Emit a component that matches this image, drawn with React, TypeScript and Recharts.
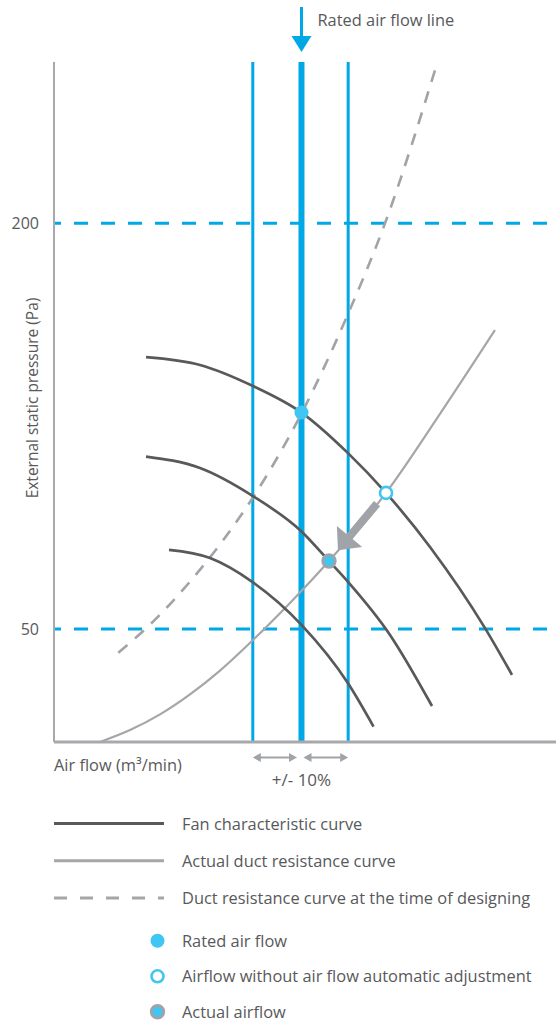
import React from 'react';
import { ComposedChart, Line, XAxis, YAxis, ReferenceLine, ReferenceDot } from 'recharts';

// ---- scales / ticks ----
const X_DOMAIN: [number, number] = [0, 100];
const Y_DOMAIN: [number, number] = [8.2, 259.6];
const Y_TICKS = [50, 200];
const PRESSURE_GUIDES = [200, 50];

// ---- air flow reference lines ----
const RATED_X = 49.3;
const TOL_LOW_X = 39.6;
const TOL_HIGH_X = 58.6;

// ---- curves ----
const fanHigh = [
  { x: 18.33, y: 150.5 }, { x: 29.08, y: 147.6 }, { x: 39.64, y: 139.8 }, { x: 49.3, y: 130.0 },
  { x: 58.57, y: 115.0 }, { x: 66.14, y: 100.3 }, { x: 74.9, y: 80.3 }, { x: 85.86, y: 50.3 }, { x: 91.24, y: 33.0 },
];
const fanMid = [
  { x: 18.33, y: 113.7 }, { x: 29.08, y: 109.5 }, { x: 39.64, y: 99.1 }, { x: 49.2, y: 86.2 },
  { x: 54.78, y: 75.1 }, { x: 58.57, y: 67.4 }, { x: 66.93, y: 47.8 }, { x: 75.3, y: 21.5 },
];
const fanLow = [
  { x: 22.91, y: 79.2 }, { x: 31.08, y: 76.2 }, { x: 39.64, y: 67.2 }, { x: 49.3, y: 51.5 },
  { x: 58.57, y: 29.9 }, { x: 63.65, y: 13.9 },
];
const actualDuct = [
  { x: 9.16, y: 8.2 }, { x: 15.14, y: 12.6 }, { x: 21.12, y: 18.4 }, { x: 27.09, y: 25.8 },
  { x: 33.07, y: 34.6 }, { x: 39.64, y: 45.9 }, { x: 47.01, y: 59.6 }, { x: 54.78, y: 75.1 },
  { x: 66.14, y: 100.3 }, { x: 76.89, y: 129.5 }, { x: 87.85, y: 160.5 },
];
const designDuct = [
  { x: 12.81, y: 41.2 }, { x: 19.78, y: 52.8 }, { x: 27.09, y: 67.5 }, { x: 33.73, y: 82.9 },
  { x: 39.7, y: 98.8 }, { x: 49.34, y: 129.8 }, { x: 58.63, y: 166.7 }, { x: 65.94, y: 200.0 }, { x: 76.35, y: 259.3 },
];

// ---- operating points ----
const ratedPoint = { x: 49.3, y: 130.0 };
const unadjustedPoint = { x: 66.14, y: 100.3 };
const actualPoint = { x: 54.78, y: 75.1 };

// ---- texts ----
const TITLE_ARROW_TEXT = 'Rated air flow line';
const X_LABEL = 'Air flow (m³/min)';
const Y_LABEL = 'External static pressure (Pa)';
const TOL_TEXT = '+/- 10%';
const LEGEND_LINES = [
  { label: 'Fan characteristic curve', stroke: '#58595b', dash: '' },
  { label: 'Actual duct resistance curve', stroke: '#a4a6a9', dash: '' },
  { label: 'Duct resistance curve at the time of designing', stroke: '#a4a6a9', dash: '13 13' },
];
const LEGEND_MARKERS = [
  { label: 'Rated air flow', kind: 'rated' },
  { label: 'Airflow without air flow automatic adjustment', kind: 'open' },
  { label: 'Actual airflow', kind: 'actual' },
];

const TEXT = '#58595b';
const FONT = "'Open Sans', 'Noto Sans', sans-serif";
const FS = 16.4;
const BLUE = '#00a8e6';
const DOT_BLUE = '#3fc6f2';
const GRAY = '#a0a3a7';

const Marker = ({ kind, cx, cy }: { kind: string; cx: number; cy: number }) => {
  if (kind === 'rated') return <circle cx={cx} cy={cy} r={7} fill={DOT_BLUE} />;
  if (kind === 'open') return <circle cx={cx} cy={cy} r={6} fill="#fff" stroke={DOT_BLUE} strokeWidth={2.6} />;
  return <circle cx={cx} cy={cy} r={6.3} fill={DOT_BLUE} stroke={GRAY} strokeWidth={2.8} />;
};

const AdjustArrow = (p: any) => {
  const { x1, y1, x2, y2 } = p;
  const dx = x2 - x1, dy = y2 - y1;
  const len = Math.hypot(dx, dy) || 1;
  const ux = dx / len, uy = dy / len, nx = -uy, ny = ux;
  const startGap = 14, tipGap = 14, headLen = 18, headHalf = 16.5, shaftHalf = 4;
  const tx = x2 - ux * tipGap, ty = y2 - uy * tipGap;
  const bx = tx - ux * headLen, by = ty - uy * headLen;
  const sx = x1 + ux * startGap, sy = y1 + uy * startGap;
  const pts = [
    [sx + nx * shaftHalf, sy + ny * shaftHalf],
    [bx + nx * shaftHalf, by + ny * shaftHalf],
    [bx + nx * headHalf, by + ny * headHalf],
    [tx, ty],
    [bx - nx * headHalf, by - ny * headHalf],
    [bx - nx * shaftHalf, by - ny * shaftHalf],
    [sx - nx * shaftHalf, sy - ny * shaftHalf],
  ];
  return <polygon points={pts.map((q) => q.join(',')).join(' ')} fill={GRAY} />;
};

const makeDoubleArrow = (insetL: number, insetR: number) => (p: any) => {
  const y = p.y1 + 15.5;
  const a = p.x1 + insetL, b = p.x2 - insetR;
  const hl = 8, hh = 4.5;
  return (
    <g>
      <line x1={a + 3} y1={y} x2={b - 3} y2={y} stroke={GRAY} strokeWidth={2} />
      <polygon points={`${a},${y} ${a + hl},${y - hh} ${a + hl},${y + hh}`} fill={GRAY} />
      <polygon points={`${b},${y} ${b - hl},${y - hh} ${b - hl},${y + hh}`} fill={GRAY} />
    </g>
  );
};

const RatedArrow = (p: any) => {
  const { cx, cy } = p;
  return (
    <g>
      <line x1={cx} y1={cy - 55} x2={cx} y2={cy - 24} stroke={BLUE} strokeWidth={3} />
      <polygon points={`${cx - 10},${cy - 26} ${cx + 10},${cy - 26} ${cx},${cy - 10}`} fill={BLUE} />
      <text x={cx + 16} y={cy - 36} fill={TEXT} fontSize={FS} fontFamily={FONT}>{TITLE_ARROW_TEXT}</text>
    </g>
  );
};

const TolText = (p: any) => (
  <text x={p.cx} y={p.cy + 44} textAnchor="middle" fill={TEXT} fontSize={17} fontFamily={FONT}>{TOL_TEXT}</text>
);

const XLabel = (p: any) => {
  const vb = p.viewBox || { x: 54, y: 742 };
  return <text x={vb.x} y={vb.y + 29} fill={TEXT} fontSize={FS} fontFamily={FONT}>{X_LABEL}</text>;
};

const YLabel = () => (
  <text x={38} y={398} transform="rotate(-90 38 398)" textAnchor="middle" fill={TEXT} fontSize={15.5} fontFamily={FONT}>{Y_LABEL}</text>
);

export default function App() {
  return (
    <div style={{ position: 'absolute', left: 0, top: 0, width: 556, height: 1023, background: '#fff' }}>
      <ComposedChart width={556} height={1023} margin={{ top: 62, right: 0, bottom: 251, left: 0 }}>
        <XAxis type="number" dataKey="x" domain={X_DOMAIN} allowDataOverflow height={30}
          tick={false} tickLine={false} axisLine={{ stroke: '#a7a9ac', strokeWidth: 3 }} label={<XLabel />} />
        <YAxis type="number" dataKey="y" domain={Y_DOMAIN} allowDataOverflow ticks={Y_TICKS} width={54}
          tickLine={false} tickSize={0} tickMargin={15} axisLine={{ stroke: '#a7a9ac', strokeWidth: 2 }}
          tick={{ fill: TEXT, fontSize: 16, fontFamily: FONT }} label={<YLabel />} />

        {PRESSURE_GUIDES.map((v) => (
          <ReferenceLine key={'h' + v} y={v} stroke={BLUE} strokeWidth={3} strokeDasharray="14 13" strokeDashoffset={7} />
        ))}
        <ReferenceLine x={TOL_LOW_X} stroke={BLUE} strokeWidth={3} />
        <ReferenceLine x={RATED_X} stroke={BLUE} strokeWidth={6} />
        <ReferenceLine x={TOL_HIGH_X} stroke={BLUE} strokeWidth={3} />

        <Line data={designDuct} dataKey="y" type="monotone" stroke={GRAY} strokeWidth={2.6} strokeDasharray="12 10" dot={false} isAnimationActive={false} />
        <Line data={actualDuct} dataKey="y" type="monotone" stroke="#a4a6a9" strokeWidth={2.2} dot={false} isAnimationActive={false} />
        <Line data={fanHigh} dataKey="y" type="monotone" stroke="#58595b" strokeWidth={2.7} dot={false} isAnimationActive={false} />
        <Line data={fanMid} dataKey="y" type="monotone" stroke="#58595b" strokeWidth={2.7} dot={false} isAnimationActive={false} />
        <Line data={fanLow} dataKey="y" type="monotone" stroke="#58595b" strokeWidth={2.7} dot={false} isAnimationActive={false} />

        <ReferenceLine segment={[unadjustedPoint, actualPoint]} shape={AdjustArrow} />
        <ReferenceLine segment={[{ x: TOL_LOW_X, y: Y_DOMAIN[0] }, { x: RATED_X, y: Y_DOMAIN[0] }]} shape={makeDoubleArrow(0, 4.5)} />
        <ReferenceLine segment={[{ x: RATED_X, y: Y_DOMAIN[0] }, { x: TOL_HIGH_X, y: Y_DOMAIN[0] }]} shape={makeDoubleArrow(2, 0)} />

        <ReferenceDot x={ratedPoint.x} y={ratedPoint.y} shape={(p: any) => <Marker kind="rated" cx={p.cx} cy={p.cy} />} />
        <ReferenceDot x={unadjustedPoint.x} y={unadjustedPoint.y} shape={(p: any) => <Marker kind="open" cx={p.cx} cy={p.cy} />} />
        <ReferenceDot x={actualPoint.x} y={actualPoint.y} shape={(p: any) => <Marker kind="actual" cx={p.cx} cy={p.cy} />} />
        <ReferenceDot x={RATED_X} y={Y_DOMAIN[1]} shape={RatedArrow} />
        <ReferenceDot x={RATED_X} y={Y_DOMAIN[0]} shape={TolText} />
      </ComposedChart>

      <svg width={556} height={223} style={{ position: 'absolute', left: 0, top: 800 }}>
        {LEGEND_LINES.map((l, i) => {
          const y = 23.5 + i * 37.2;
          return (
            <g key={l.label}>
              <line x1={54} y1={y} x2={164} y2={y} stroke={l.stroke} strokeWidth={3} strokeDasharray={l.dash || undefined} />
              <text x={182} y={y + 6} fill={TEXT} fontSize={FS} fontFamily={FONT}>{l.label}</text>
            </g>
          );
        })}
        {LEGEND_MARKERS.map((m, i) => {
          const y = 140.8 + i * 35.5;
          return (
            <g key={m.label}>
              <Marker kind={m.kind} cx={157.5} cy={y} />
              <text x={182} y={y + 6} fill={TEXT} fontSize={FS} fontFamily={FONT}>{m.label}</text>
            </g>
          );
        })}
      </svg>
    </div>
  );
}
